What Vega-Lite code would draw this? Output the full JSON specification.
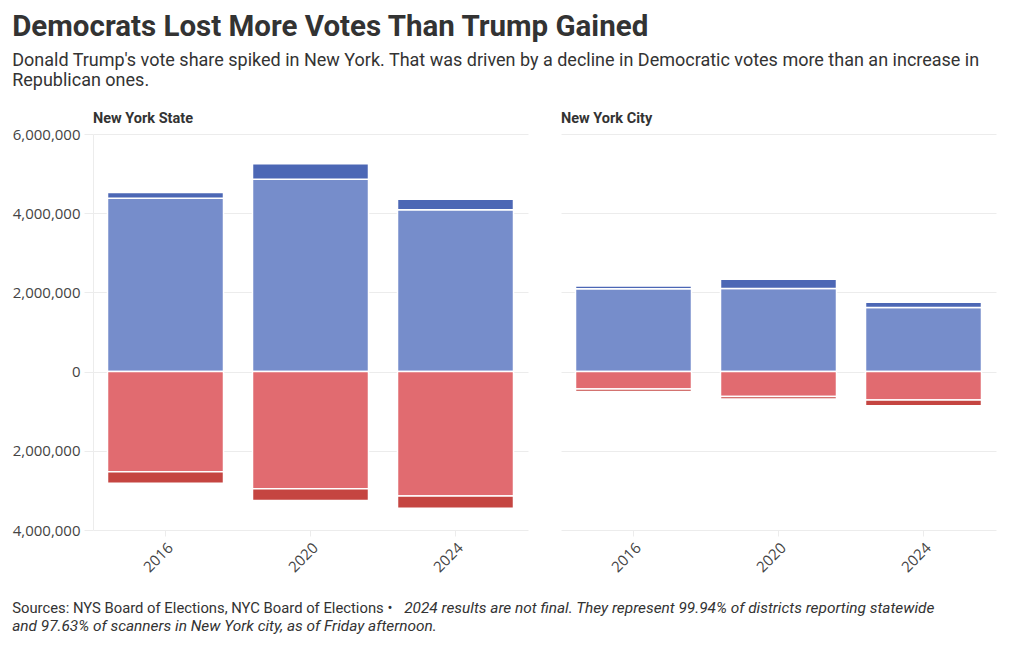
{
  "$schema": "https://vega.github.io/schema/vega-lite/v6.json",
  "background": "white",
  "padding": {"left": 12, "top": 12, "right": 10, "bottom": 8},
  "config": {
    "view": {"stroke": null},
    "font": "Roboto",
    "axis": {"labelFont": "Open Sans", "labelFontSize": 15, "labelColor": "#444", "gridColor": "#ececec", "tickColor": "#ececec", "domainColor": "#ececec"},
    "title": {"anchor": "start", "frame": "bounds"}
  },
  "title": {
    "text": "Democrats Lost More Votes Than Trump Gained",
    "subtitle": ["Donald Trump's vote share spiked in New York. That was driven by a decline in Democratic votes more than an increase in", "Republican ones."],
    "font": "Roboto",
    "fontSize": 29.5,
    "fontWeight": "bold",
    "color": "#333",
    "subtitleFont": "Roboto",
    "subtitleFontSize": 18,
    "subtitleColor": "#333",
    "subtitlePadding": 9,
    "subtitleLineHeight": 20,
    "offset": 20
  },
  "vconcat": [
    {
      "title": {"text": "and 97.63% of scanners in New York city, as of Friday afternoon.", "orient": "bottom", "anchor": "start", "font": "Roboto", "fontSize": 15.4, "fontStyle": "italic", "fontWeight": "normal", "color": "#333", "offset": 3},
      "vconcat": [
        {
          "title": {"text": "2024 results are not final. They represent 99.94% of districts reporting statewide", "orient": "bottom", "anchor": "start", "font": "Roboto", "fontSize": 15.4, "fontStyle": "italic", "fontWeight": "normal", "color": "#333", "dx": 392, "offset": -15},
          "vconcat": [
            {
              "title": {"text": "Sources: NYS Board of Elections, NYC Board of Elections •", "orient": "bottom", "anchor": "start", "font": "Roboto", "fontSize": 14.8, "fontWeight": "normal", "color": "#333", "offset": 26},
              "data": {"values": [
                {"region": "New York State", "year": "2016", "line": "Democratic", "ord": 1, "votes": 4380000},
                {"region": "New York State", "year": "2016", "line": "Working Families", "ord": 2, "votes": 140000},
                {"region": "New York State", "year": "2016", "line": "Republican", "ord": 1, "votes": -2527000},
                {"region": "New York State", "year": "2016", "line": "Conservative", "ord": 2, "votes": -292000},
                {"region": "New York State", "year": "2020", "line": "Democratic", "ord": 1, "votes": 4860000},
                {"region": "New York State", "year": "2020", "line": "Working Families", "ord": 2, "votes": 386000},
                {"region": "New York State", "year": "2020", "line": "Republican", "ord": 1, "votes": -2956000},
                {"region": "New York State", "year": "2020", "line": "Conservative", "ord": 2, "votes": -296000},
                {"region": "New York State", "year": "2024", "line": "Democratic", "ord": 1, "votes": 4090000},
                {"region": "New York State", "year": "2024", "line": "Working Families", "ord": 2, "votes": 260000},
                {"region": "New York State", "year": "2024", "line": "Republican", "ord": 1, "votes": -3140000},
                {"region": "New York State", "year": "2024", "line": "Conservative", "ord": 2, "votes": -310000},
                {"region": "New York City", "year": "2016", "line": "Democratic", "ord": 1, "votes": 2090000},
                {"region": "New York City", "year": "2016", "line": "Working Families", "ord": 2, "votes": 70000},
                {"region": "New York City", "year": "2016", "line": "Republican", "ord": 1, "votes": -440000},
                {"region": "New York City", "year": "2016", "line": "Conservative", "ord": 2, "votes": -60000},
                {"region": "New York City", "year": "2020", "line": "Democratic", "ord": 1, "votes": 2100000},
                {"region": "New York City", "year": "2020", "line": "Working Families", "ord": 2, "votes": 230000},
                {"region": "New York City", "year": "2020", "line": "Republican", "ord": 1, "votes": -630000},
                {"region": "New York City", "year": "2020", "line": "Conservative", "ord": 2, "votes": -60000},
                {"region": "New York City", "year": "2024", "line": "Democratic", "ord": 1, "votes": 1620000},
                {"region": "New York City", "year": "2024", "line": "Working Families", "ord": 2, "votes": 130000},
                {"region": "New York City", "year": "2024", "line": "Republican", "ord": 1, "votes": -720000},
                {"region": "New York City", "year": "2024", "line": "Conservative", "ord": 2, "votes": -145000}
              ]},
              "facet": {
                "column": {
                  "field": "region",
                  "type": "nominal",
                  "sort": ["New York State", "New York City"],
                  "header": {"title": null, "labelAnchor": "start", "labelFont": "Roboto", "labelFontWeight": "bold", "labelFontSize": 14.5, "labelColor": "#333", "labelPadding": 8}
                }
              },
              "spacing": 33,
              "spec": {
                "width": 435,
                "height": 396,
                "mark": {"type": "bar", "stroke": "white", "strokeWidth": 1.5},
                "encoding": {
                  "x": {
                    "field": "year",
                    "type": "nominal",
                    "scale": {"paddingInner": 0.2, "paddingOuter": 0.1},
                    "axis": {"title": null, "labelAngle": -45, "domain": false, "tickSize": 6, "labelFontSize": 15, "labelPadding": 4}
                  },
                  "y": {
                    "field": "votes",
                    "type": "quantitative",
                    "stack": "zero",
                    "scale": {"domain": [-4000000, 6000000], "nice": false},
                    "axis": {"title": null, "values": [-4000000, -2000000, 0, 2000000, 4000000, 6000000], "labelExpr": "format(abs(datum.value), ',')", "tickSize": 9, "labelPadding": 4}
                  },
                  "color": {
                    "field": "line",
                    "type": "nominal",
                    "scale": {"domain": ["Democratic", "Working Families", "Republican", "Conservative"], "range": ["#768DCB", "#4C67B5", "#E16B70", "#C54541"]},
                    "legend": null
                  },
                  "order": {"field": "ord", "type": "quantitative"}
                }
              }
            }
          ]
        }
      ]
    }
  ]
}
